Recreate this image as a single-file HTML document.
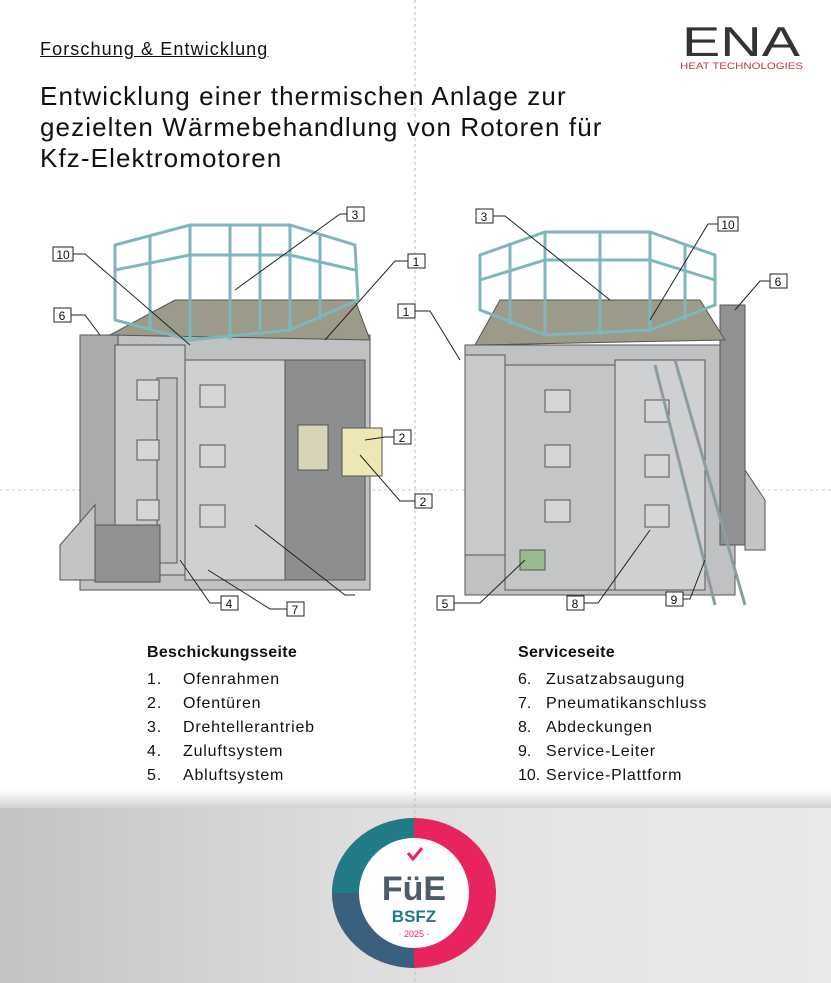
<!DOCTYPE html>
<html><head><meta charset="utf-8"><style>
body{margin:0;width:831px;height:983px;position:relative;overflow:hidden;background:#fff;font-family:"Liberation Sans",sans-serif}
.t{position:absolute;color:#111;white-space:nowrap}
.h{font-size:26px;left:40px;line-height:31px;top:81px;letter-spacing:1.1px}
.sub{left:40px;top:39px;font-size:18px;text-decoration:underline;letter-spacing:1.1px}
.li{font-size:16px;letter-spacing:0.8px}
.band{position:absolute;left:0;top:808px;width:831px;height:175px;background:linear-gradient(90deg,#c3c3c3,#dcdcdc 40%,#e6e6e6 70%,#e9e9e9)}
.sh{position:absolute;left:0;top:790px;width:831px;height:20px;background:linear-gradient(#fff,#ccc)}
</style></head><body>
<div class="sh"></div><div class="band"></div>
<svg width="831" height="983" style="position:absolute;left:0;top:0">
<line x1="415" y1="0" x2="415" y2="983" stroke="#bbb" stroke-dasharray="3,3"/>
<line x1="0" y1="490" x2="831" y2="490" stroke="#ccc" stroke-dasharray="3,3"/>
<text x="682" y="56" font-family="Liberation Sans" font-size="42" textLength="118" lengthAdjust="spacingAndGlyphs" fill="#333">ENA</text>
<text x="680" y="69" font-family="Liberation Sans" font-size="9.5" textLength="123" lengthAdjust="spacingAndGlyphs" fill="#c0364a">HEAT TECHNOLOGIES</text>
<!-- left machine -->
<g stroke="#555" stroke-width="1">
<rect x="80" y="335" width="290" height="255" fill="#bfc1c3"/>
<rect x="80" y="335" width="38" height="240" fill="#a9abad"/>
<rect x="115" y="345" width="70" height="230" fill="#c9cacc"/>
<rect x="185" y="360" width="100" height="220" fill="#cfd0d2"/>
<rect x="285" y="360" width="80" height="220" fill="#8c8e90"/>
<rect x="298" y="425" width="30" height="45" fill="#d8d4b8"/>
<rect x="342" y="428" width="40" height="48" fill="#ece7b4"/>
<rect x="157" y="378" width="20" height="185" fill="#c0c2c4"/>
<rect x="95" y="525" width="65" height="57" fill="#8f9193"/>
<polygon points="60,545 95,505 95,580 60,580" fill="#c2c4c6"/>
<rect x="200" y="385" width="25" height="22" fill="#d5d6d8"/><rect x="200" y="445" width="25" height="22" fill="#d5d6d8"/><rect x="200" y="505" width="25" height="22" fill="#d5d6d8"/>
<rect x="137" y="380" width="22" height="20" fill="#d5d6d8"/><rect x="137" y="440" width="22" height="20" fill="#d5d6d8"/><rect x="137" y="500" width="22" height="20" fill="#d5d6d8"/>
<polygon points="110,335 175,300 355,300 370,340" fill="#9c9a88"/>
</g>
<g stroke="#7fb6bc" stroke-width="3" fill="none">
<polygon points="115,245 190,225 290,225 355,245 358,300 290,330 190,340 115,320"/>
<polyline points="115,270 190,255 290,255 355,270"/>
<line x1="190" y1="225" x2="190" y2="340"/><line x1="290" y1="225" x2="290" y2="330"/><line x1="230" y1="225" x2="230" y2="340"/><line x1="260" y1="225" x2="260" y2="330"/><line x1="320" y1="235" x2="320" y2="320"/><line x1="150" y1="235" x2="150" y2="330"/>
</g>
<!-- right machine -->
<g stroke="#555" stroke-width="1">
<rect x="465" y="345" width="270" height="250" fill="#bfc1c3"/>
<rect x="465" y="355" width="40" height="200" fill="#c9cacc"/>
<rect x="505" y="365" width="110" height="225" fill="#c4c5c7"/>
<rect x="615" y="360" width="90" height="230" fill="#cfd0d2"/>
<rect x="720" y="305" width="25" height="240" fill="#8f9193"/>
<polygon points="745,470 765,500 765,550 745,550" fill="#c2c4c6"/>
<rect x="645" y="400" width="24" height="22" fill="#d5d6d8"/><rect x="645" y="455" width="24" height="22" fill="#d5d6d8"/><rect x="645" y="505" width="24" height="22" fill="#d5d6d8"/>
<rect x="545" y="390" width="25" height="22" fill="#d5d6d8"/><rect x="545" y="445" width="25" height="22" fill="#d5d6d8"/><rect x="545" y="500" width="25" height="22" fill="#d5d6d8"/>
<polygon points="475,345 500,300 700,300 725,340" fill="#9c9a88"/>
<rect x="520" y="550" width="25" height="20" fill="#9bb98f"/>
</g>
<g stroke="#8a9ea2" stroke-width="3" fill="none"><line x1="655" y1="365" x2="715" y2="605"/><line x1="675" y1="360" x2="745" y2="605"/></g>
<g stroke="#7fb6bc" stroke-width="3" fill="none">
<polygon points="480,255 545,232 650,232 715,255 715,305 650,330 545,335 480,310"/>
<polyline points="480,280 545,260 650,260 715,280"/>
<line x1="545" y1="232" x2="545" y2="335"/><line x1="650" y1="232" x2="650" y2="330"/><line x1="600" y1="232" x2="600" y2="335"/><line x1="510" y1="245" x2="510" y2="325"/><line x1="685" y1="245" x2="685" y2="320"/>
</g>
<!-- labels -->
<g font-family="Liberation Sans" font-size="12" text-anchor="middle" fill="#111">
<g fill="#fff" stroke="#222"><rect x="347" y="207" width="17" height="14"/><rect x="53" y="247" width="20" height="14"/><rect x="408" y="254" width="17" height="14"/><rect x="54" y="308" width="17" height="14"/><rect x="394" y="430" width="17" height="14"/><rect x="415" y="494" width="17" height="14"/><rect x="221" y="596" width="17" height="14"/><rect x="287" y="602" width="17" height="14"/>
<rect x="476" y="209" width="17" height="14"/><rect x="718" y="217" width="20" height="14"/><rect x="770" y="274" width="17" height="14"/><rect x="398" y="304" width="17" height="14"/><rect x="437" y="596" width="17" height="14"/><rect x="567" y="596" width="17" height="14"/><rect x="666" y="592" width="17" height="14"/></g>
<text x="355" y="219">3</text><text x="63" y="259">10</text><text x="416" y="266">1</text><text x="62" y="320">6</text><text x="402" y="442">2</text><text x="423" y="506">2</text><text x="229" y="608">4</text><text x="295" y="614">7</text>
<text x="484" y="221">3</text><text x="728" y="229">10</text><text x="778" y="286">6</text><text x="406" y="316">1</text><text x="445" y="608">5</text><text x="575" y="608">8</text><text x="674" y="604">9</text>
</g>
<g stroke="#222" fill="none">
<polyline points="347,214 340,214 235,290"/><polyline points="73,254 85,254 190,345"/><polyline points="408,261 395,261 325,340"/><polyline points="71,315 85,315 100,335"/><polyline points="394,437 385,437 365,440"/><polyline points="415,501 400,501 360,455"/><polyline points="221,603 210,603 180,560"/><polyline points="287,609 270,609 208,570"/><polyline points="355,595 345,595 255,525"/>
<polyline points="493,216 505,216 610,300"/><polyline points="718,224 708,224 650,320"/><polyline points="770,281 760,281 735,310"/><polyline points="415,311 430,311 460,360"/><polyline points="454,603 480,603 525,560"/><polyline points="584,603 598,603 650,530"/><polyline points="683,599 690,599 705,560"/>
</g>
<!-- badge -->
<ellipse cx="414" cy="893" rx="82" ry="75" fill="#e8245e"/>
<path d="M414,818 A82,75 0 0 0 332,893 L414,893 Z" fill="#227a86"/>
<path d="M332,893 A82,75 0 0 0 414,968 L414,893 Z" fill="#3a5f7f"/>
<ellipse cx="414" cy="893" rx="55" ry="55" fill="#fff"/>
<path d="M408,853 l5,6 l9,-11" stroke="#e8245e" stroke-width="3" fill="none"/>
<text x="414" y="900" text-anchor="middle" font-family="Liberation Sans" font-weight="bold" font-size="34" fill="#4c5c68">FüE</text>
<text x="414" y="922" text-anchor="middle" font-family="Liberation Sans" font-weight="bold" font-size="17" fill="#227a86">BSFZ</text>
<text x="414" y="937" text-anchor="middle" font-family="Liberation Sans" font-size="9" fill="#e8245e">· 2025 ·</text>
</svg>
<div class="t sub">Forschung &amp; Entwicklung</div>
<div class="t h">Entwicklung einer thermischen Anlage zur<br>gezielten Wärmebehandlung von Rotoren für<br>Kfz-Elektromotoren</div>
<div class="t li" style="left:147px;top:644px;font-weight:bold;letter-spacing:0.3px">Beschickungsseite</div>
<div class="t li" style="left:147px;top:668px;line-height:24px">1.<br>2.<br>3.<br>4.<br>5.</div>
<div class="t li" style="left:183px;top:668px;line-height:24px">Ofenrahmen<br>Ofentüren<br>Drehtellerantrieb<br>Zuluftsystem<br>Abluftsystem</div>
<div class="t li" style="left:518px;top:644px;font-weight:bold;letter-spacing:0.3px">Serviceseite</div>
<div class="t li" style="left:518px;top:668px;line-height:24px;letter-spacing:0">6.<br>7.<br>8.<br>9.<br>10.</div>
<div class="t li" style="left:546px;top:668px;line-height:24px">Zusatzabsaugung<br>Pneumatikanschluss<br>Abdeckungen<br>Service-Leiter<br>Service-Plattform</div>
</body></html>
